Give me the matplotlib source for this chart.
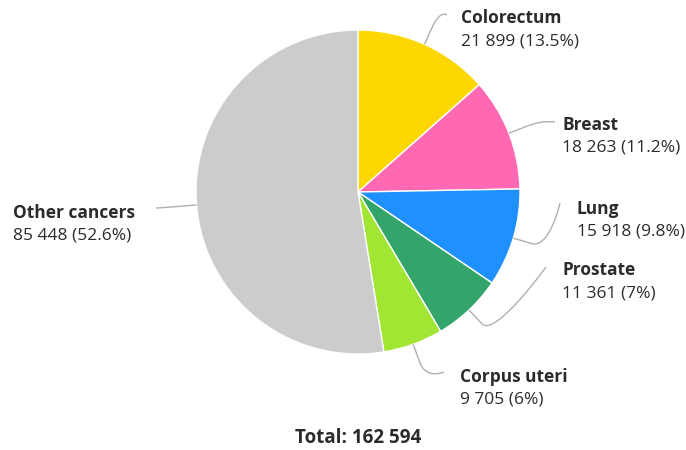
import matplotlib
matplotlib.use("Agg")
import matplotlib.pyplot as plt
import numpy as np
from matplotlib.path import Path
from matplotlib.patches import PathPatch

categories = ["Colorectum", "Breast", "Lung", "Prostate", "Corpus uteri", "Other cancers"]
values = [21899, 18263, 15918, 11361, 9705, 85448]
colors = ["#FFD700", "#FF69B4", "#1E90FF", "#33A56B", "#A0E632", "#CCCCCC"]

# layout (pixel coords, y from top)
W, H = 686, 450
CX, CY, R = 358, 192, 162
label_pos = [(461, 18), (562, 125), (577, 209), (562, 270), (460, 377), (13, 213)]
conn_end = [(447, 15), (555, 122), (560, 203), (546, 267), (444, 372), (156, 208)]
LINE_GAP = 23
TXT = "#2b2b2b"
FONT = "Open Sans"
FS = 12.5

def Y(py):
    return H - py

fig = plt.figure(figsize=(W / 100, H / 100), dpi=100)
ax = fig.add_axes([0, 0, 1, 1])

ax.pie(values, colors=colors, startangle=90, counterclock=False,
       center=(CX, Y(CY)), radius=R,
       wedgeprops=dict(edgecolor="white", linewidth=1.0))
ax.set_xlim(0, W)
ax.set_ylim(0, H)
ax.set_aspect("auto")
ax.axis("off")

total = sum(values)
cum = np.cumsum([0] + values[:-1])
for i, (cat, v) in enumerate(zip(categories, values)):
    frac_mid = (cum[i] + v / 2) / total
    th = np.deg2rad(90 - 360 * frac_mid)
    ex, ey = CX + R * np.cos(th), Y(CY) + R * np.sin(th)
    bx, by = CX + (R + 19) * np.cos(th), Y(CY) + (R + 19) * np.sin(th)
    lx, ly = conn_end[i][0], Y(conn_end[i][1])
    verts = [(lx, ly), (lx, ly), (2 * bx - ex, 2 * by - ey), (bx, by), (ex, ey)]
    codes = [Path.MOVETO, Path.CURVE4, Path.CURVE4, Path.CURVE4, Path.LINETO]
    ax.add_patch(PathPatch(Path(verts, codes), fill=False, edgecolor="#B0B0B0", lw=1.0))

    pct = round(100 * v / total, 1)
    pct_s = f"{pct:g}"
    val_s = f"{v:,}".replace(",", " ")
    tx, ty = label_pos[i]
    ax.text(tx, Y(ty), cat, fontsize=FS, fontweight="bold", color=TXT,
            family=FONT, ha="left", va="center")
    ax.text(tx, Y(ty + LINE_GAP), f"{val_s} ({pct_s}%)", fontsize=FS, color=TXT,
            family=FONT, ha="left", va="center")

tot_s = f"{total:,}".replace(",", " ")
ax.text(CX, Y(438), f"Total: {tot_s}", fontsize=13.5, fontweight="bold", color=TXT,
        family=FONT, ha="center", va="center")

fig.savefig("out.png", dpi=100)
